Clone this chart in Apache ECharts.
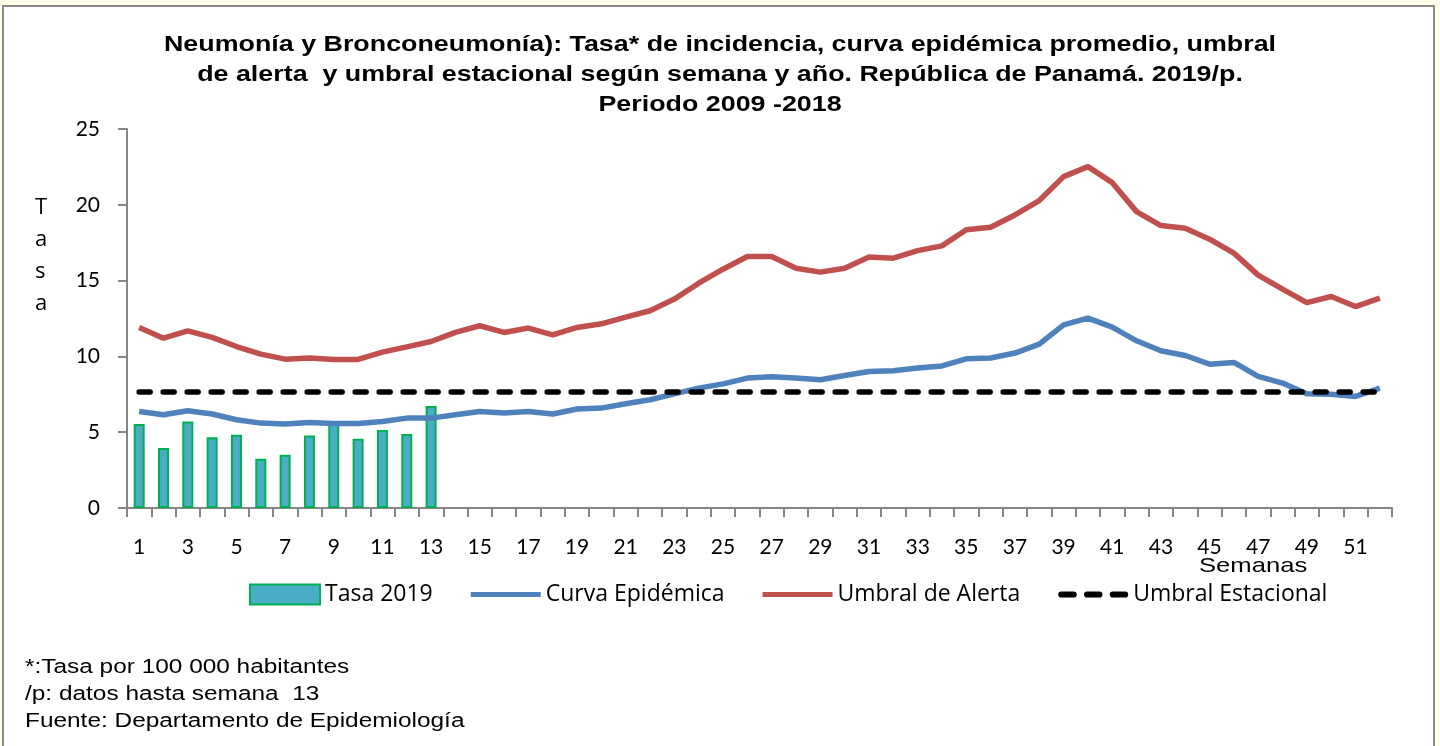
<!DOCTYPE html>
<html lang="es">
<head>
    <meta charset="UTF-8">
    <title>Neumonía y Bronconeumonía</title>
    <script src="https://cdn.jsdelivr.net/npm/echarts@6.0.0/dist/echarts.min.js"></script>
    <style>
        html, body { margin: 0; padding: 0; background: #fefee8; overflow: hidden; }
        #frame { position: absolute; left: 2px; top: 5px; width: 1429px; height: 800px;
                 background: #ffffff; border: 2px solid #8a8a8a; }
        #chart { position: absolute; left: 0; top: 0; width: 1440px; height: 746px; }
    </style>
</head>
<body>
<div id="frame"></div>
<div id="chart"></div>
<script type="text/javascript">
    // semanas epidemiológicas
    var semanas = ['1','2','3','4','5','6','7','8','9','10','11','12','13','14','15','16','17','18','19','20',
        '21','22','23','24','25','26','27','28','29','30','31','32','33','34','35','36','37','38','39','40',
        '41','42','43','44','45','46','47','48','49','50','51','52'];

    // tasa 2019 (datos hasta semana 13)
    var tasa2019 = [5.54, 3.95, 5.71, 4.66, 4.83, 3.25, 3.51, 4.79, 5.6, 4.57, 5.14, 4.88, 6.72];

    var curvaEpidemica = [6.37, 6.15, 6.41, 6.2, 5.82, 5.6, 5.54, 5.64, 5.58, 5.58, 5.71, 5.93, 5.93,
        6.15, 6.37, 6.26, 6.37, 6.2, 6.53, 6.59, 6.88, 7.14, 7.53, 7.91, 8.19, 8.57, 8.66, 8.57, 8.46,
        8.74, 9.0, 9.05, 9.23, 9.37, 9.84, 9.89, 10.22, 10.81, 12.08, 12.52, 11.93, 11.03, 10.37, 10.06,
        9.49, 9.6, 8.68, 8.24, 7.53, 7.51, 7.36, 7.91];

    var umbralAlerta = [11.9, 11.2, 11.69, 11.25, 10.65, 10.15, 9.82, 9.89, 9.8, 9.8, 10.28, 10.63, 10.98,
        11.58, 12.02, 11.58, 11.87, 11.42, 11.91, 12.15, 12.59, 13.01, 13.78, 14.83, 15.75, 16.59, 16.59,
        15.82, 15.56, 15.82, 16.55, 16.48, 16.98, 17.29, 18.35, 18.52, 19.33, 20.28, 21.86, 22.52, 21.46,
        19.55, 18.63, 18.46, 17.73, 16.81, 15.36, 14.44, 13.55, 13.95, 13.29, 13.84];

    var umbralEstacional = [7.65, 7.65, 7.65, 7.65, 7.65, 7.65, 7.65, 7.65, 7.65, 7.65, 7.65, 7.65, 7.65,
        7.65, 7.65, 7.65, 7.65, 7.65, 7.65, 7.65, 7.65, 7.65, 7.65, 7.65, 7.65, 7.65, 7.65, 7.65, 7.65,
        7.65, 7.65, 7.65, 7.65, 7.65, 7.65, 7.65, 7.65, 7.65, 7.65, 7.65, 7.65, 7.65, 7.65, 7.65, 7.65,
        7.65, 7.65, 7.65, 7.65, 7.65, 7.65, 7.65];

    var yTicks = { min: 0, max: 25, interval: 5 };

    var titulo = 'Neumonía y Bronconeumonía): Tasa* de incidencia, curva epidémica promedio, umbral\n' +
        'de alerta  y umbral estacional según semana y año. República de Panamá. 2019/p.\n' +
        'Periodo 2009 -2018';
    var notas = ['*:Tasa por 100 000 habitantes', '/p: datos hasta semana  13', 'Fuente: Departamento de Epidemiología'];

    var myChart = echarts.init(document.getElementById('chart'));

    var axisGray = '#868686';
    var labelFont = 'Lato';
    var legendFont = 'Open Sans';
    // el original viene estirado en horizontal
    var stretch = 1.22;

    // iconos de la leyenda: barra, linea gruesa, linea punteada
    var iconLinea = 'path://M0,0 L70,0 L70,5 L0,5 Z';
    var iconPunteada = 'path://M3,0 L15,0 A3,3 0 0 1 15,6 L3,6 A3,3 0 0 1 3,0 Z ' +
        'M28,0 L40,0 A3,3 0 0 1 40,6 L28,6 A3,3 0 0 1 28,0 Z ' +
        'M53,0 L65,0 A3,3 0 0 1 65,6 L53,6 A3,3 0 0 1 53,0 Z';

    option = {
        animation: false,
        legend: {
            left: 244,
            top: 578,
            itemWidth: 70,
            itemHeight: 20,
            itemGap: 38,
            textStyle: { fontFamily: legendFont, fontSize: 23, color: '#000' },
            data: [
                { name: 'Tasa 2019', icon: 'rect' },
                { name: 'Curva Epidémica', icon: iconLinea },
                { name: 'Umbral de Alerta', icon: iconLinea },
                { name: 'Umbral Estacional', icon: iconPunteada }
            ]
        },
        grid: { left: 127, right: 48, top: 129, bottom: 238 },
        xAxis: {
            type: 'category',
            data: semanas,
            boundaryGap: true,
            axisLine: { lineStyle: { color: axisGray, width: 2 } },
            axisTick: { show: true, interval: 0, length: 9, lineStyle: { color: axisGray, width: 2 } },
            axisLabel: { interval: 1, margin: 29, fontFamily: labelFont, fontSize: 21, color: '#000' },
            splitLine: { show: false }
        },
        yAxis: {
            type: 'value',
            min: yTicks.min,
            max: yTicks.max,
            interval: yTicks.interval,
            axisLine: { show: true, lineStyle: { color: axisGray, width: 2 } },
            axisTick: { show: true, length: 9, lineStyle: { color: axisGray, width: 2 } },
            axisLabel: { margin: 27, fontFamily: labelFont, fontSize: 21, color: '#000' },
            splitLine: { show: false }
        },
        graphic: [
            {
                type: 'text', x: 720, y: 30, scaleX: stretch,
                style: {
                    text: titulo, align: 'center', verticalAlign: 'top',
                    fontFamily: 'Liberation Sans', fontWeight: 'bold', fontSize: 22, lineHeight: 30, fill: '#000'
                }
            },
            {
                type: 'text', x: 35, y: 192,
                style: { text: 'T\na\ns\na', verticalAlign: 'top', fontFamily: legendFont, fontSize: 22, lineHeight: 32, fill: '#000' }
            },
            {
                type: 'text', x: 1199, y: 556, scaleX: stretch,
                style: { text: 'Semanas', verticalAlign: 'top', fontFamily: 'Liberation Sans', fontSize: 21, fill: '#000' }
            },
            {
                type: 'text', x: 25, y: 654, scaleX: stretch,
                style: { text: notas.join('\n'), verticalAlign: 'top', fontFamily: 'Liberation Sans', fontSize: 20, lineHeight: 27, fill: '#000' }
            }
        ],
        series: [{
            name: 'Tasa 2019',
            type: 'bar',
            data: tasa2019,
            barWidth: 11,
            itemStyle: { color: '#4bacc6', borderColor: '#00b050', borderWidth: 2 }
        }, {
            name: 'Curva Epidémica',
            type: 'line',
            data: curvaEpidemica,
            symbol: 'none',
            lineStyle: { color: '#4f81bd', width: 5.5 },
            itemStyle: { color: '#4f81bd' }
        }, {
            name: 'Umbral de Alerta',
            type: 'line',
            data: umbralAlerta,
            symbol: 'none',
            lineStyle: { color: '#c0504d', width: 5.5 },
            itemStyle: { color: '#c0504d' }
        }, {
            name: 'Umbral Estacional',
            type: 'line',
            data: umbralEstacional,
            symbol: 'none',
            lineStyle: { color: '#000', width: 5.5, type: [11, 13], cap: 'round' },
            itemStyle: { color: '#000' }
        }]
    };
    myChart.setOption(option);
</script>
</body>
</html>
